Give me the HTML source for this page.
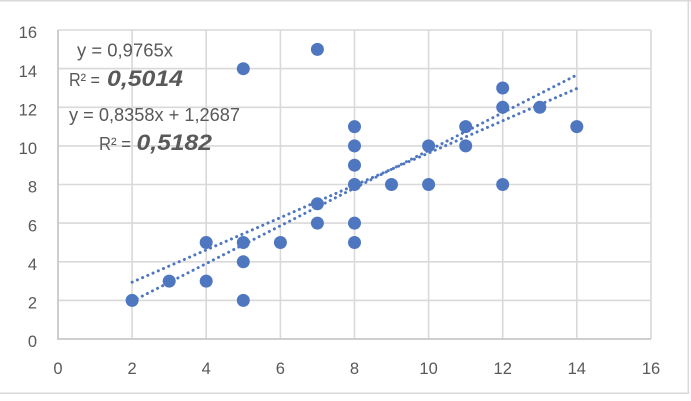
<!DOCTYPE html>
<html><head><meta charset="utf-8"><style>
html,body{margin:0;padding:0;background:#fff;}
svg{display:block;}
text{font-family:"Liberation Sans",Arial,sans-serif;fill:#595959;}
</style></head><body>
<svg width="691" height="401" viewBox="0 0 691 401" xmlns="http://www.w3.org/2000/svg">
<rect x="0" y="0" width="691" height="401" fill="#fff"/>
<!-- chart border -->
<line x1="0" y1="0.8" x2="691" y2="0.8" stroke="#D9D9D9" stroke-width="1.5"/>
<line x1="688.3" y1="0" x2="688.3" y2="393.5" stroke="#D9D9D9" stroke-width="1.5"/>
<line x1="0" y1="393.3" x2="689" y2="393.3" stroke="#D9D9D9" stroke-width="1.5"/>
<!-- gridlines -->
<g stroke="#D9D9D9" stroke-width="1.6">
<line x1="58" y1="30" x2="651" y2="30"/>
<line x1="58" y1="68.6" x2="651" y2="68.6"/>
<line x1="58" y1="107.3" x2="651" y2="107.3"/>
<line x1="58" y1="145.9" x2="651" y2="145.9"/>
<line x1="58" y1="184.5" x2="651" y2="184.5"/>
<line x1="58" y1="223.1" x2="651" y2="223.1"/>
<line x1="58" y1="261.8" x2="651" y2="261.8"/>
<line x1="58" y1="300.4" x2="651" y2="300.4"/>
<line x1="132.1" y1="30" x2="132.1" y2="339"/>
<line x1="206.2" y1="30" x2="206.2" y2="339"/>
<line x1="280.4" y1="30" x2="280.4" y2="339"/>
<line x1="354.5" y1="30" x2="354.5" y2="339"/>
<line x1="428.6" y1="30" x2="428.6" y2="339"/>
<line x1="502.7" y1="30" x2="502.7" y2="339"/>
<line x1="576.8" y1="30" x2="576.8" y2="339"/>
<line x1="651" y1="30" x2="651" y2="339"/>
</g>
<g stroke="#C8C8C8" stroke-width="1.8">
<line x1="58" y1="30" x2="58" y2="339.5"/>
<line x1="57" y1="339" x2="651" y2="339"/>
</g>
<!-- y tick labels -->
<g font-size="16.5" text-anchor="end">
<text x="37" y="38.2">16</text>
<text x="37" y="76.8">14</text>
<text x="37" y="115.5">12</text>
<text x="37" y="154.1">10</text>
<text x="37" y="192.7">8</text>
<text x="37" y="231.3">6</text>
<text x="37" y="270">4</text>
<text x="37" y="308.6">2</text>
<text x="37" y="347.2">0</text>
</g>
<!-- x tick labels -->
<g font-size="16.5" text-anchor="middle">
<text x="58" y="374">0</text>
<text x="132.1" y="374">2</text>
<text x="206.2" y="374">4</text>
<text x="280.4" y="374">6</text>
<text x="354.5" y="374">8</text>
<text x="428.6" y="374">10</text>
<text x="502.7" y="374">12</text>
<text x="576.8" y="374">14</text>
<text x="651" y="374">16</text>
</g>
<!-- markers -->
<g fill="#4F77C0">
<circle cx="132.1" cy="300.4" r="6.5"/>
<circle cx="169.2" cy="281.1" r="6.5"/>
<circle cx="206.2" cy="281.1" r="6.5"/>
<circle cx="206.2" cy="242.5" r="6.5"/>
<circle cx="243.3" cy="68.7" r="6.5"/>
<circle cx="243.3" cy="242.5" r="6.5"/>
<circle cx="243.3" cy="261.8" r="6.5"/>
<circle cx="243.3" cy="300.4" r="6.5"/>
<circle cx="280.4" cy="242.5" r="6.5"/>
<circle cx="317.4" cy="49.4" r="6.5"/>
<circle cx="317.4" cy="203.8" r="6.5"/>
<circle cx="317.4" cy="223.1" r="6.5"/>
<circle cx="354.5" cy="126.6" r="6.5"/>
<circle cx="354.5" cy="145.9" r="6.5"/>
<circle cx="354.5" cy="165.2" r="6.5"/>
<circle cx="354.5" cy="184.5" r="6.5"/>
<circle cx="354.5" cy="223.1" r="6.5"/>
<circle cx="354.5" cy="242.5" r="6.5"/>
<circle cx="391.5" cy="184.5" r="6.5"/>
<circle cx="428.6" cy="145.9" r="6.5"/>
<circle cx="428.6" cy="184.5" r="6.5"/>
<circle cx="465.7" cy="126.6" r="6.5"/>
<circle cx="465.7" cy="145.9" r="6.5"/>
<circle cx="502.7" cy="88" r="6.5"/>
<circle cx="502.7" cy="107.3" r="6.5"/>
<circle cx="502.7" cy="184.5" r="6.5"/>
<circle cx="539.8" cy="107.3" r="6.5"/>
<circle cx="576.8" cy="126.6" r="6.5"/>
</g>
<!-- trendlines -->
<g stroke="#4F77C0" stroke-width="3" stroke-linecap="round" stroke-dasharray="0.1 5.6" fill="none">
<line x1="132.1" y1="301.3" x2="576.8" y2="75.0"/>
<line x1="132.1" y1="282.2" x2="576.8" y2="88.5"/>
</g>
<!-- equations -->
<text x="77" y="56.5" font-size="18" textLength="96" lengthAdjust="spacingAndGlyphs">y = 0,9765x</text>
<text x="69" y="86" font-size="18" textLength="31" lengthAdjust="spacingAndGlyphs">R² =</text>
<text x="107" y="86" font-size="22" font-weight="bold" font-style="italic" textLength="76" lengthAdjust="spacingAndGlyphs">0,5014</text>
<text x="69" y="121" font-size="18" textLength="171" lengthAdjust="spacingAndGlyphs">y = 0,8358x + 1,2687</text>
<text x="99" y="150" font-size="18" textLength="32" lengthAdjust="spacingAndGlyphs">R² =</text>
<text x="136.5" y="150" font-size="22" font-weight="bold" font-style="italic" textLength="75.5" lengthAdjust="spacingAndGlyphs">0,5182</text>
</svg>
</body></html>
